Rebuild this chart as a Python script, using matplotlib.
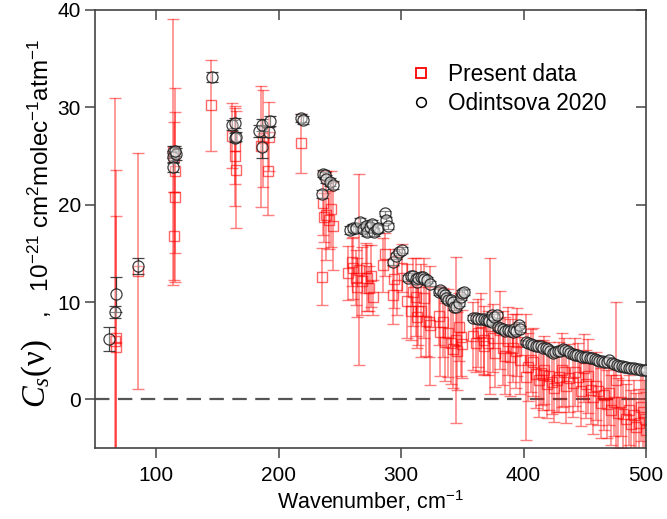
import matplotlib
matplotlib.use("Agg")
import matplotlib.pyplot as plt
from matplotlib.lines import Line2D

plt.rcParams['font.family'] = ['Liberation Sans', 'DejaVu Sans']
plt.rcParams['mathtext.fontset'] = 'custom'
plt.rcParams['mathtext.it'] = 'Liberation Serif:italic'
plt.rcParams['mathtext.rm'] = 'Liberation Serif'
plt.rcParams['mathtext.default'] = 'regular'

# ---------------- data ----------------
present_x = [66.0, 67.0, 67.5, 85.0, 113.5, 114.5, 115.0, 115.5, 114.5, 145.0,
             161.5, 164.0, 164.5, 165.5, 185.5, 187.0, 191.5, 192.5, 218.5,
             235.0, 236.0, 237.0, 239.0, 241.0, 243.0, 244.0,
             257, 260, 261, 263, 264, 266, 268, 271, 272, 273.5, 275, 277,
             285.5, 287, 293, 294, 297, 301,
             305, 307.7, 310, 311.8, 313, 314, 316, 318.5, 320, 322.5, 324,
             330.6, 332, 334, 336, 338, 340.5, 342, 344.5, 346, 347, 348.6, 350,
             359, 361, 362.5, 365, 367.5, 368, 370.7, 373, 375, 377, 381, 383, 385,
             387, 389, 391, 393.6, 395, 397,
             401.8, 404, 406, 408, 410, 412.5, 414, 415.7, 417, 419, 421, 423, 424.7,
             427, 428.8, 431, 433, 435, 437, 440, 442, 444.4, 447, 449, 451, 453, 455,
             456.7, 459, 460.7, 463, 465.7, 468, 470, 471.4, 474, 475.5, 477, 479.5,
             481, 483.6, 486, 488, 490, 492, 494, 496, 497.5, 499, 500]
present_y = [6.0, 5.4, 6.3, 13.2, 25.4, 24.9, 23.5, 20.8, 16.8, 30.2,
             27.1, 26.0, 25.0, 23.6, 26.0, 26.8, 23.5, 27.0, 26.3,
             12.6, 20.2, 18.7, 18.9, 18.4, 19.6, 17.8,
             13.0, 14.1, 13.5, 12.5, 11.5, 13.3, 12.2, 13.5, 12.5, 11.4, 12.7, 10.5,
             13.8, 14.9, 10.7, 12.4, 11.7, 13.5,
             10.1, 9.1, 11.0, 10.5, 8.5, 9.1, 9.1, 10.4, 8.0, 7.9, 7.6,
             8.6, 6.9, 7.9, 5.9, 6.8, 5.8, 5.2, 6.1, 5.0, 7.4, 6.4, 5.7,
             6.5, 5.8, 6.8, 6.9, 6.1, 5.5, 5.8, 7.5, 6.3, 4.8, 7.1, 5.3, 4.5,
             6.0, 4.3, 5.3, 5.0, 5.9, 4.0,
             2.3, 3.3, 4.0, 3.8, 2.6, 2.0, 2.7, 2.5, 3.0, 1.6, 2.4, 1.8, 1.2,
             2.0, 2.3, 3.0, 2.8, 1.4, 2.2, 1.7, 2.8, 2.3, 0.9, 3.2, 1.6, 2.4, 1.0,
             0.2, 1.4, 0.9, -0.4, 0.4, -0.5, 0.6, -1.1, -0.3, 2.0, -1.4, -0.3,
             -1.5, -2.0, -1.1, -2.5, -1.6, -2.8, -2.4, -0.8, -1.3, -2.0, -3.2]
present_err = [25.0, 18.2, 12.5, 12.1, 13.7, 3.6, 8.5, 8.7, 4.5, 4.7,
               3.3, 3.9, 5.1, 6.0, 6.2, 5.0, 4.6, 3.5, 3.0,
               2.9, 3.3, 2.5, 4.6, 3.0, 3.9, 4.5,
               2.8, 2.5, 3.2, 2.8, 3.0, 9.8, 3.5, 2.6, 3.4, 2.3, 3.2, 1.8,
               2.8, 2.2, 3.0, 3.0, 3.0, 2.5,
               3.8, 3.0, 3.5, 4.0, 3.2, 3.5, 4.8, 4.1, 3.5, 3.6, 6.1,
               3.0, 4.5, 3.5, 4.0, 4.5, 4.2, 4.0, 8.5, 4.0, 3.5, 4.0, 3.5,
               3.5, 3.0, 3.5, 4.0, 3.5, 3.0, 3.3, 7.0, 3.5, 3.5, 4.0, 3.8, 4.0,
               3.5, 4.0, 3.5, 3.8, 3.5, 3.5,
               6.5, 3.5, 3.2, 3.5, 3.5, 3.8, 3.3, 3.6, 3.5, 3.5, 3.5, 3.3, 3.5,
               3.3, 3.6, 3.8, 3.5, 3.8, 3.5, 3.5, 3.5, 3.5, 3.6, 3.5, 3.5, 3.8, 3.5,
               3.8, 3.5, 3.5, 3.6, 3.5, 3.5, 3.2, 3.6, 3.5, 8.0, 3.6, 3.5,
               3.5, 3.6, 3.6, 3.5, 3.6, 3.5, 3.5, 3.5, 4.0, 4.0, 4.0]

odin_x = [61.5, 66.5, 67.0, 85.2, 113.5, 114.0, 113.8, 116.3, 115.5, 145.7,
          162.0, 164.5, 164.0, 165.5, 184.0, 186.6, 186.6, 192.0, 193.0,
          218.5, 220.0, 236.2, 237.5, 239.0, 242.3, 244.0, 235.5,
          258.6, 261, 263.5, 266.8, 269, 271, 272.5, 274.5, 276.6, 278, 280, 281.5,
          286.5, 287.4, 289.7, 293, 295.5, 298, 301,
          306, 308, 310, 312, 313, 314, 316, 317.5, 319, 321, 324,
          330.7, 332, 334, 335.5, 337, 338.7, 340.5, 342, 343, 344.6, 347, 348.8, 350, 351,
          359, 361, 363, 365, 367.5, 369, 370.7, 372, 374, 374, 375.8, 378,
          379, 381, 383, 385, 387, 389, 391, 392.5, 394, 396, 397.5,
          402, 404, 406, 408, 410, 412, 414, 416, 418, 420, 422, 424, 426, 428, 430,
          432, 434, 436, 438, 440, 442, 444, 446, 448, 450, 452, 454, 456, 458, 460,
          462, 464, 466, 468, 470, 472, 474, 476, 478, 480, 482, 484, 486, 488, 490,
          492, 494, 496, 498, 500]
odin_y = [6.2, 9.0, 10.8, 13.7, 25.4, 24.9, 23.9, 25.2, 25.5, 33.1,
          28.2, 28.4, 26.9, 27.0, 27.6, 28.2, 25.9, 27.5, 28.6,
          28.9, 28.7, 23.2, 23.0, 22.6, 22.3, 22.0, 21.1,
          17.4, 17.6, 17.6, 18.2, 17.5, 17.8, 17.2, 17.7, 18.0, 17.2, 17.5, 17.6,
          19.1, 18.4, 17.8, 14.1, 14.7, 15.1, 15.3,
          12.5, 12.7, 12.7, 12.4, 12.1, 12.5, 12.6, 12.6, 12.4, 12.3, 11.9,
          11.0, 11.2, 10.9, 10.7, 10.4, 10.2, 10.2, 10.0, 9.5, 9.5, 9.9, 10.5, 10.9, 11.0,
          8.4, 8.4, 8.3, 8.3, 8.3, 8.2, 8.1, 8.0, 7.9, 8.7, 8.5, 8.7,
          7.4, 7.3, 7.2, 7.0, 7.1, 7.0, 6.9, 7.2, 7.0, 7.6, 7.2,
          5.9, 5.8, 5.7, 5.6, 5.5, 5.5, 5.5, 5.3, 5.3, 5.2, 5.0, 4.8, 4.9, 5.0, 5.0,
          5.2, 5.1, 5.0, 4.8, 4.7, 4.6, 4.6, 4.5, 4.4, 4.4, 4.3, 4.2, 4.2, 4.1, 4.0,
          3.9, 3.9, 3.8, 3.8, 4.0, 3.7, 3.6, 3.5, 3.4, 3.4, 3.3, 3.3, 3.2, 3.2, 3.2,
          3.1, 3.1, 3.0, 3.0, 3.0]
odin_err = [1.2, 0.6, 1.8, 0.8, 0.6, 0.6, 0.5, 0.6, 0.5, 0.5,
            0.5, 0.5, 0.5, 0.5, 0.6, 0.6, 1.1, 0.5, 0.5,
            0.4, 0.4, 0.4, 0.4, 0.4, 0.4, 0.4, 0.4] + [0.4] * 12 + [0.3] * 7 + \
           [0.3] * 11 + [0.3] * 14 + [0.3] * 12 + [0.3] * 11 + [0.2] * 50

xticks = [100, 200, 300, 400, 500]
yticks = [0, 10, 20, 30, 40]

# ---------------- figure ----------------
fig = plt.figure(figsize=(6.67, 5.19), dpi=100)
ax = fig.add_axes([95 / 667, 1 - 448 / 519, 551 / 667, 438 / 519])

ax.axhline(0, color='#555555', lw=1.6, ls=(0, (6.5, 3.8)), zorder=1)

ax.errorbar(present_x, present_y, yerr=present_err, fmt='s', ms=7,
            mfc='none', mec=(1, 0, 0, 0.6), mew=1.0,
            ecolor=(1, 0, 0, 0.5), elinewidth=1.1, capsize=4, capthick=1.1,
            zorder=2)
ax.errorbar(odin_x, odin_y, yerr=odin_err, fmt='o', ms=8,
            mfc=(1, 1, 1, 0.35), mec=(0.1, 0.1, 0.1, 0.85), mew=0.9,
            ecolor=(0.15, 0.15, 0.15, 0.85), elinewidth=0.9, capsize=4,
            capthick=0.9, zorder=3)

ax.set_xlim(50, 500)
ax.set_ylim(-5, 40)
ax.set_xticks(xticks)
ax.set_yticks(yticks)
for s in ax.spines.values():
    s.set_color('#444444')
    s.set_linewidth(1.2)
ax.tick_params(axis='both', which='both', labelsize=15, colors='#444444',
               labelcolor='black', width=1.1, length=7, direction='out')
ax.tick_params(top=True, right=True)
ax.tick_params(axis='x', which='both', pad=6)
ax.tick_params(axis='y', which='both', pad=3)
# top/right ticks inward
for t in ax.xaxis.get_major_ticks():
    t.tick2line.set_marker(3)
for t in ax.yaxis.get_major_ticks():
    t.tick2line.set_marker(0)

ax.set_xlabel('Wavenumber, cm$^{-1}$', fontsize=15.5, labelpad=2)

fig.text(37 / 667, 1 - 374 / 519, r'$\mathit{C_s}(\nu)$', rotation=90,
         ha='center', va='center', fontsize=23.5, family='Liberation Serif')
fig.text(40 / 667, 1 - 178 / 519, ',   10$^{-21}$ cm$^{2}$molec$^{-1}$atm$^{-1}$',
         rotation=90, ha='center', va='center', fontsize=17.5)

handles = [Line2D([], [], ls='none', marker='s', ms=7, mfc='none', mec='red', mew=1.3),
           Line2D([], [], ls='none', marker='o', ms=7, mfc='none', mec='black', mew=1.1)]
ax.legend(handles, ['Present data', 'Odintsova 2020'], loc='upper left',
          bbox_to_anchor=(0.53, 0.925), frameon=False, fontsize=16.3,
          handletextpad=0.6, labelspacing=0.25, handlelength=1.2)

fig.savefig('out.png', dpi=100)
